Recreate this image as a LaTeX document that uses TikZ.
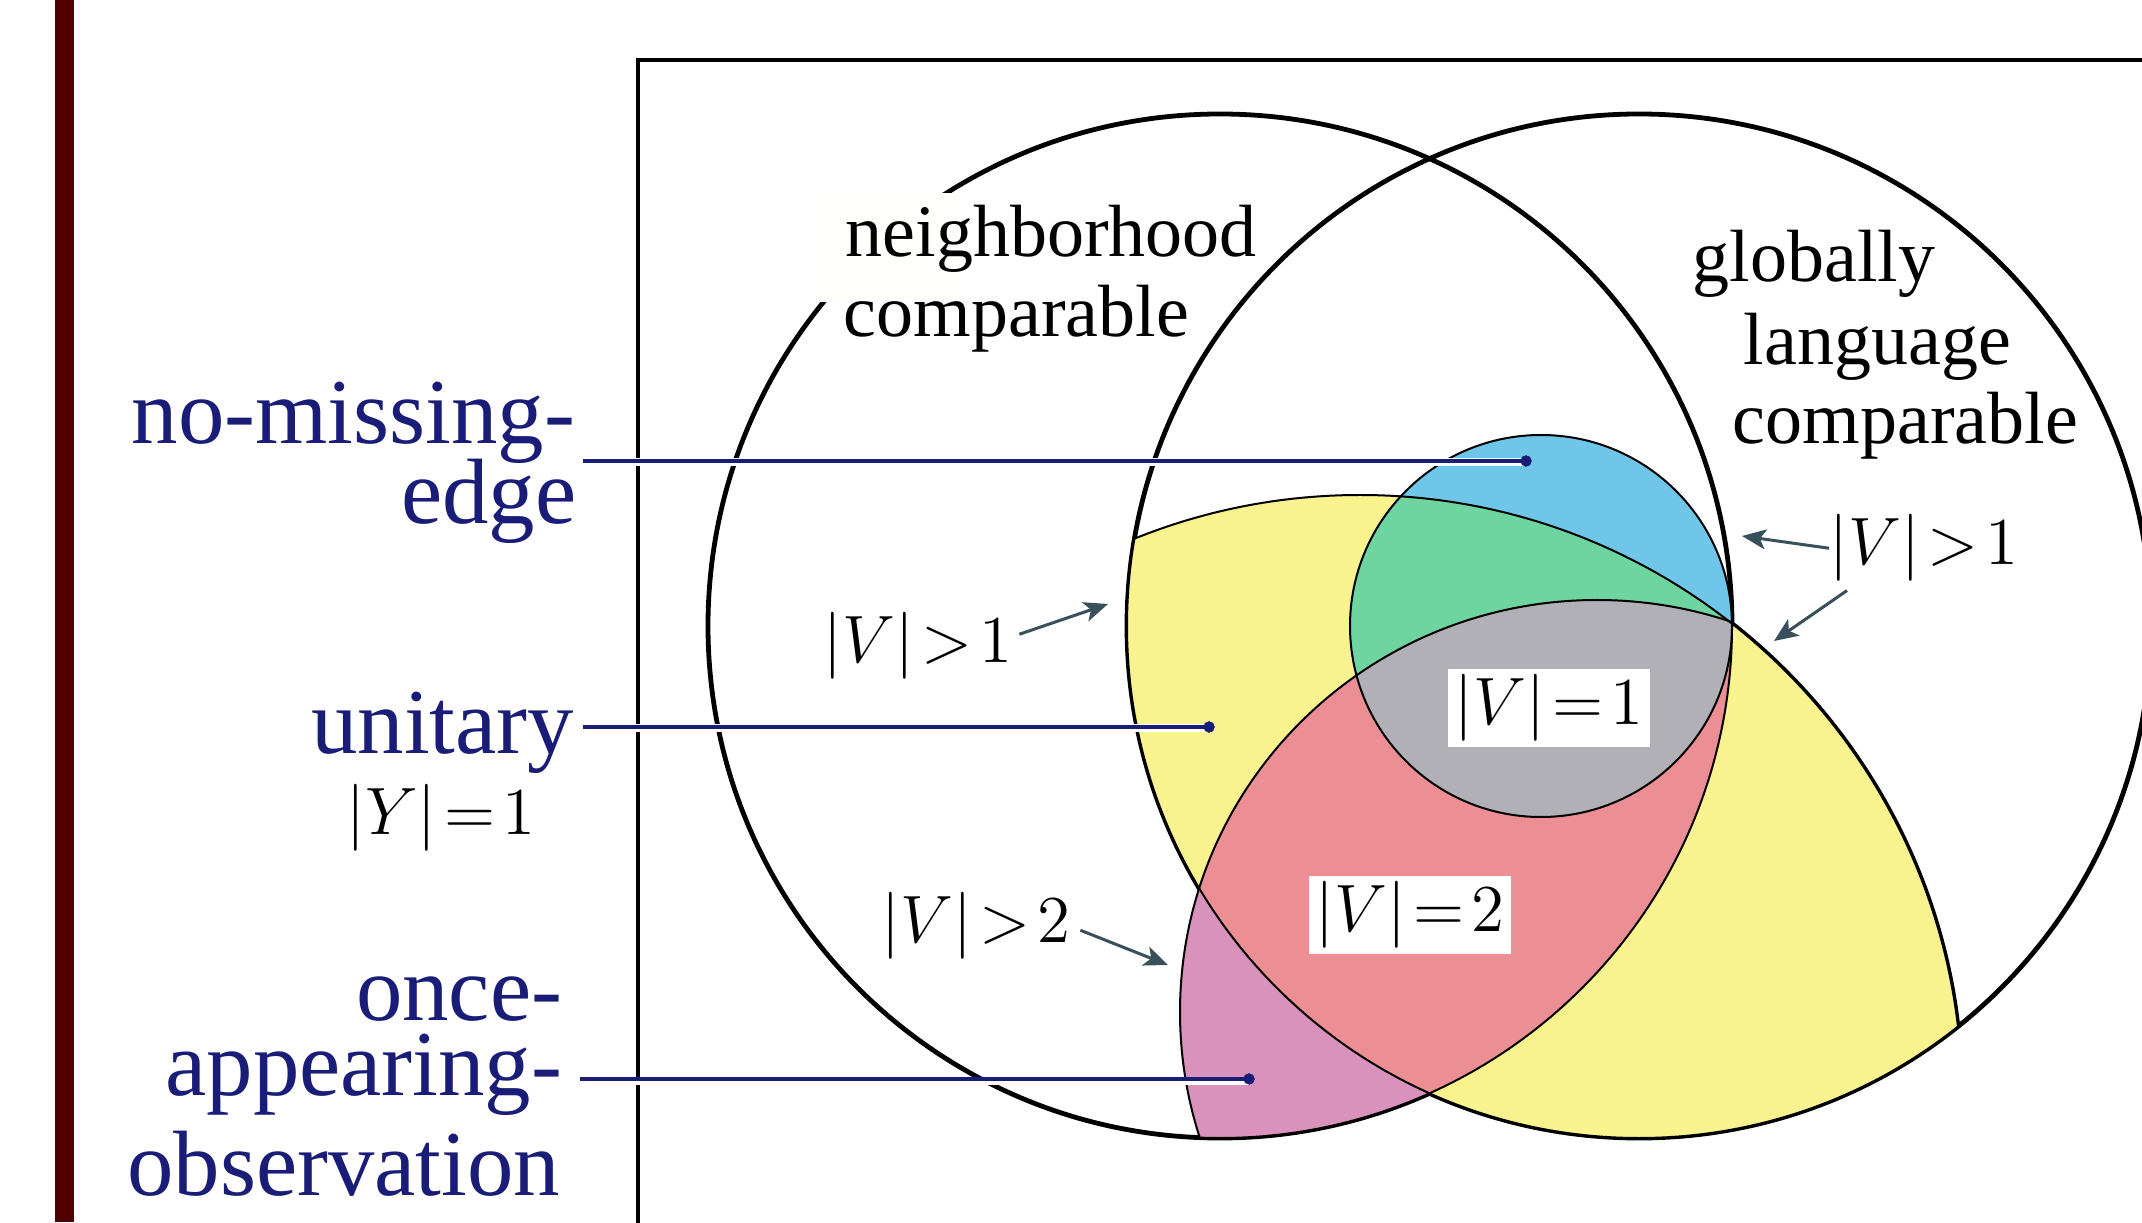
\RequirePackage{fix-cm}
\documentclass[tikz,border=0pt]{standalone}
\usepackage{fontspec}
\setmainfont{Liberation Serif}
\usetikzlibrary{arrows.meta}
\definecolor{barred}{RGB}{80,0,0}
\definecolor{navy}{RGB}{25,29,120}
\definecolor{ylw}{RGB}{248,243,143}
\definecolor{blu}{RGB}{112,198,232}
\definecolor{grn}{RGB}{110,213,161}
\definecolor{gry}{RGB}{177,176,182}
\definecolor{pnk}{RGB}{235,143,149}
\definecolor{prp}{RGB}{216,146,187}
\definecolor{arrcol}{RGB}{55,80,92}
\definecolor{patch}{RGB}{255,255,251}
\def\Lpath{(1220,596) circle[radius=128pt]}
\def\Rpath{(1639,596) circle[radius=128pt]}
\def\Bpath{(1541,596) circle[radius=47.75pt]}
\def\Dpath{(1360,125) circle[radius=150.5pt]}
\def\Epath{(1597,210) ellipse[x radius=104.25pt,y radius=103pt]}
\begin{document}
\begin{tikzpicture}[x=0.25pt,y=0.25pt,
  thickline/.style={line width=1.2pt},
  thinline/.style={line width=0.5pt},
  navylabel/.style={text=navy,inner sep=0pt,font=\fontsize{23.2}{20}\selectfont},
  blacklabel/.style={inner sep=0pt,font=\fontsize{18.5}{20}\selectfont},
  mathlabel/.style={inner sep=0pt,font=\fontsize{16.75}{20}\selectfont},
  casing/.style={white,line width=2pt,transform canvas={yshift=-0.375pt}},
  pointer/.style={navy,line width=0.85pt},
  enddot/.style={circle,fill=navy,inner sep=0pt,minimum size=2.8pt},
  callout/.style={arrcol,line width=0.75pt,-{Stealth[length=6pt,width=5pt,inset=1.5pt]}},
  valbox/.style={fill=white,inner xsep=1.75pt,inner ysep=1.4pt,font=\fontsize{16.75}{20}\selectfont}
]
\useasboundingbox (0,0) rectangle (2142,1222);
\clip (0,0) rectangle (2142,1222);
\fill[white] (0,0) rectangle (2142,1222);
% left bar and frame
\fill[barred] (55,0) rectangle (74,1222);
\draw[line width=1pt] (2200,1162) -- (638,1162) -- (638,-50);
% big sets
\draw[thickline] \Lpath;
\draw[thickline] \Rpath;
\begin{scope}
  \clip \Rpath;
  \begin{scope}[even odd rule]
    \clip (0,0) rectangle (2142,1222) \Lpath;
    \draw[thickline] \Dpath;
  \end{scope}
\end{scope}
% fills
\begin{scope}
  \clip \Rpath;
  \fill[ylw] \Dpath;
\end{scope}
\begin{scope}
  \clip \Lpath;
  \fill[prp] \Epath;
  \clip \Rpath;
  \fill[pnk] \Epath;
\end{scope}
\fill[blu] \Bpath;
\begin{scope}
  \clip \Bpath;
  \fill[grn] \Dpath;
  \fill[gry] \Epath;
\end{scope}
% thin outlines
\draw[thinline] \Lpath;
\draw[thinline] \Rpath;
\draw[thinline] \Bpath;
\begin{scope}
  \clip \Rpath;
  \draw[thinline] \Dpath;
\end{scope}
\begin{scope}
  \clip \Lpath;
  \draw[thinline] \Epath;
\end{scope}
% set names
\fill[patch] (813,920) rectangle (962,1029);
\node[blacklabel,anchor=base west] (nb1) at (845,965) {neighborhood};
\node[blacklabel,anchor=base west] (nb2) at (843,885) {comparable};
\node[blacklabel,anchor=base west] (gl1) at (1692,940) {globally};
\node[blacklabel,anchor=base west] (gl2) at (1743,857) {language};
\node[blacklabel,anchor=base west] (gl3) at (1732,778) {comparable};
% value boxes
\node[valbox] (v1) at (1549,514) {$|V|\!=\!1$};
\node[valbox] (v2) at (1410,307) {$|V|\!=\!2$};
% callouts
\node[mathlabel,anchor=base west] (va) at (823,559) {$|V|\!>\!1$};
\node[mathlabel,anchor=base west] (vb) at (881,280) {$|V|\!>\!2$};
\node[mathlabel,anchor=base west] (vc) at (1829,657) {$|V|\!>\!1$};
\coordinate (ta) at (1108,618);
\coordinate (tb) at (1168,257);
\coordinate (tc) at (1742,686);
\coordinate (td) at (1774,581);
\draw[callout] ([shift={(6,12)}]va.east) -- (ta);
\draw[callout] ([shift={(9,-5)}]vb.east) -- (tb);
\draw[callout] (vc.west) -- (tc);
\draw[callout] ([shift={(18,-8)}]vc.south west) -- (td);
% left labels
\node[navylabel,anchor=base east] (nme1) at (576,778) {no-missing-};
\node[navylabel,anchor=base east] (nme2) at (577,698) {edge};
\node[navylabel,anchor=base east] (uni) at (575,469) {unitary};
\node[mathlabel,anchor=base] (yone) at (441,387) {$|Y|\!=\!1$};
\node[navylabel,anchor=base east] (oao1) at (563,202) {once-};
\node[navylabel,anchor=base east] (oao2) at (563,127) {appearing-};
\node[navylabel,anchor=base east] (oao3) at (561,27) {observation};
% pointers
\node[enddot] (dnme) at (1526,761) {};
\node[enddot] (duni) at (1209,495) {};
\node[enddot] (doao) at (1249,143) {};
\coordinate (snme) at (583,761);
\coordinate (suni) at (583,495);
\coordinate (soao) at (580,143);
\draw[casing] (snme) -- (dnme.center);
\draw[casing] (suni) -- (duni.center);
\draw[casing] (soao) -- (doao.center);
\draw[pointer] (snme) -- (dnme.center);
\draw[pointer] (suni) -- (duni.center);
\draw[pointer] (soao) -- (doao.center);
\node[enddot] at (dnme) {};
\node[enddot] at (duni) {};
\node[enddot] at (doao) {};
\end{tikzpicture}
\end{document}
